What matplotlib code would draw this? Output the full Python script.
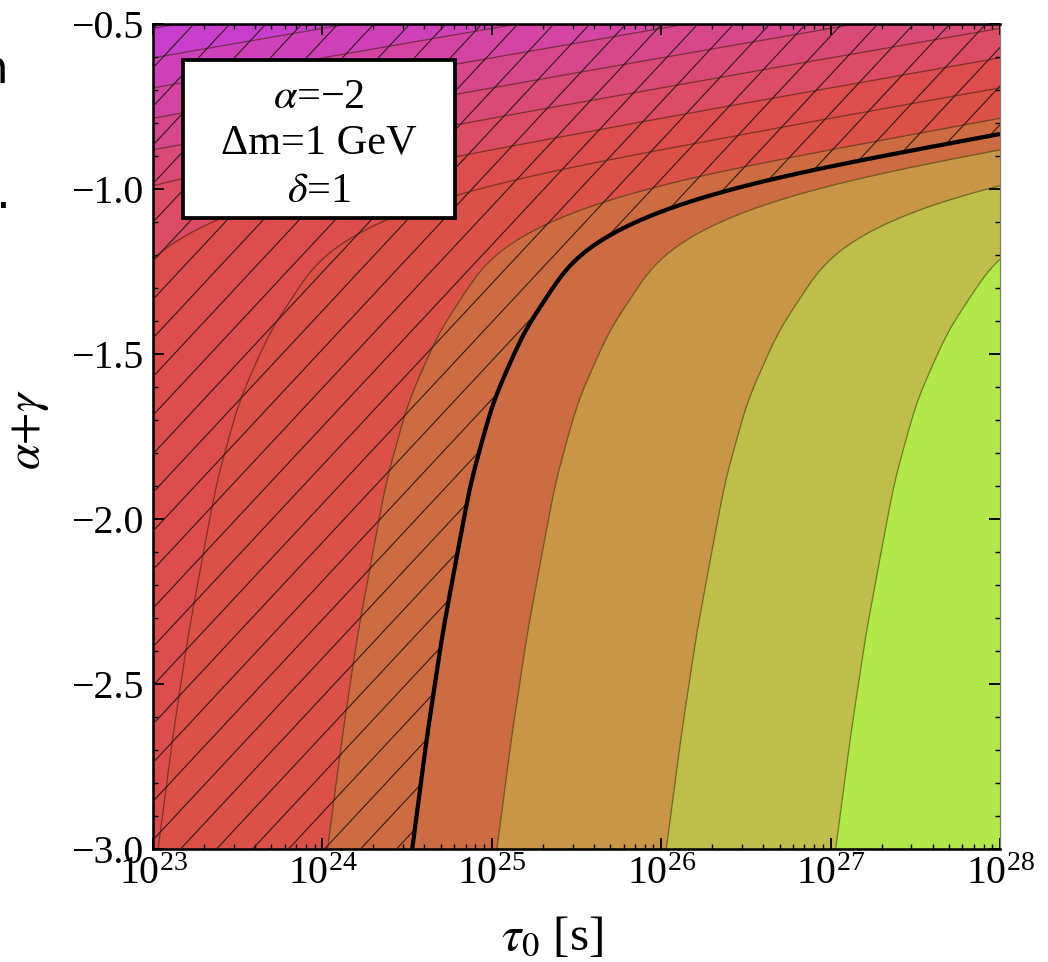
import matplotlib.pyplot as plt
import numpy as np
from matplotlib.patches import Rectangle
from matplotlib.collections import LineCollection
from matplotlib.ticker import LogLocator, MultipleLocator, LogFormatterMathtext, NullFormatter

plt.rcParams['font.family'] = ['Liberation Serif', 'DejaVu Serif']
plt.rcParams['mathtext.fontset'] = 'stix'

# how far (in decades of tau0) the contours are pushed right vs alpha+gamma
ag_read = [-3.0, -2.65, -2.345, -2.04, -1.88, -1.64, -1.41, -1.336, -1.27, -1.20, -1.14,
           -1.08, -1.01, -0.96, -0.92, -0.836, -0.76, -0.70, -0.645, -0.58, -0.50]
shift_read = [0.03, 0.12, 0.21, 0.32, 0.38, 0.51, 0.71, 0.82, 0.89, 1.00, 1.17,
              1.40, 1.80, 2.20, 2.58, 3.48, 4.25, 4.95, 5.52, 6.25, 7.15]

# contour levels (log10 tau0 at alpha+gamma = -3) and the band colours
levels = [16, 17, 18, 19, 20, 21, 22, 23, 24, 25, 26, 27]
band_colors = ['#c23ddb', '#c83fcc', '#cf41b8', '#d444a2', '#d7478c', '#da4a78',
               '#dc4c64', '#dd4d4e', '#dc5147', '#cd6c43', '#c99647', '#c0be4b', '#b3e84b']
limit_level = 24.5       # thick black line, hatched to the left of it

x_ticks = [1e23, 1e24, 1e25, 1e26, 1e27, 1e28]
y_ticks = [-3.0, -2.5, -2.0, -1.5, -1.0, -0.5]
box_lines = [r'$\alpha$=−2', 'Δm=1 GeV', r'$\delta$=1']

# field on a grid
lt = np.linspace(23, 28, 700)
ag = np.linspace(-3, -0.5, 700)
f = np.interp(ag, ag_read, shift_read)
dy = ag[1] - ag[0]
sig = 0.05 / dy                              # gaussian smoothing of the read table
kx = np.arange(-int(3 * sig), int(3 * sig) + 1)
kern = np.exp(-0.5 * (kx / sig) ** 2)
kern /= kern.sum()
n = len(kx) // 2
f_pad = np.pad(f, n, mode='reflect', reflect_type='odd')
f = np.convolve(f_pad, kern, mode='same')[n:-n]
LT, AG = np.meshgrid(lt, ag)
Z = LT - f[:, None]
TAU = 10.0 ** LT

fig = plt.figure(figsize=(1048 / 169, 962 / 169), dpi=169)
ax = fig.add_axes([153 / 1048, 1 - 849 / 962, 847 / 1048, 825 / 962])

ax.contourf(TAU, AG, Z, levels=[Z.min() - 1] + levels + [Z.max() + 1], colors=band_colors)
ax.contour(TAU, AG, Z, levels=levels, colors=[(0.15, 0.08, 0.0, 0.5)], linewidths=0.55)

# hatching left of the limit line
hs = ax.contourf(TAU, AG, Z, levels=[Z.min() - 1, limit_level], colors='none')
step = 0.0425
slope = np.tan(np.radians(47)) * 847 / 825
segs = [[(c, 0), (c + 1 / slope, 1)] for c in np.arange(-1.2, 1.05, step)]
lc = LineCollection(segs, colors='#2a1616', linewidths=0.45, transform=ax.transAxes, zorder=3)
lc.set_clip_path(hs.get_paths()[0], ax.transData)
ax.add_collection(lc)

ax.contour(TAU, AG, Z, levels=[limit_level], colors='black', linewidths=1.8, zorder=4)

ax.set_xscale('log')
ax.set_xlim(1e23, 1e28)
ax.set_ylim(-3.0, -0.5)
ax.set_xticks(x_ticks)
ax.xaxis.set_major_formatter(LogFormatterMathtext())
ax.xaxis.set_minor_locator(LogLocator(base=10, subs=np.arange(2, 10)))
ax.xaxis.set_minor_formatter(NullFormatter())
ax.set_yticks(y_ticks)
ax.yaxis.set_minor_locator(MultipleLocator(0.1))
ax.tick_params(which='both', direction='in', top=True, right=True, labelsize=17)
ax.tick_params(which='major', length=4.5, width=0.8)
ax.tick_params(which='minor', length=2.3, width=0.6)
ax.tick_params(axis='x', pad=3)
ax.tick_params(axis='y', pad=4)
for s in ['left', 'bottom', 'top']:
    ax.spines[s].set_linewidth(1.1)
ax.spines['right'].set_linewidth(0.5)
ax.spines['right'].set_color('#777777')

ax.set_xlabel(r'$\tau_0$ [s]', fontsize=21)
ax.xaxis.set_label_coords(0.471, -0.08)
ax.set_ylabel(r'$\alpha{+}\gamma$', fontsize=20)
ax.yaxis.set_label_coords(-0.12, 0.508)

# parameter box
ax.add_patch(Rectangle((0.035, 0.765), 0.322, 0.191, transform=ax.transAxes,
                       facecolor='white', edgecolor='black', linewidth=1.6, zorder=5))
for txt, yy in zip(box_lines, [0.91, 0.855, 0.797]):
    ax.text(0.196, yy, txt, transform=ax.transAxes, ha='center', va='center',
            fontsize=18, zorder=6)

# bits of neighbouring text cut off at the left edge
fig.text(-0.02, 0.927, 'n', fontsize=20, family='DejaVu Sans', va='center')
fig.text(-0.004, 0.797, '.', fontsize=20, family='DejaVu Sans', va='center')

fig.savefig('out.png', dpi=169)
